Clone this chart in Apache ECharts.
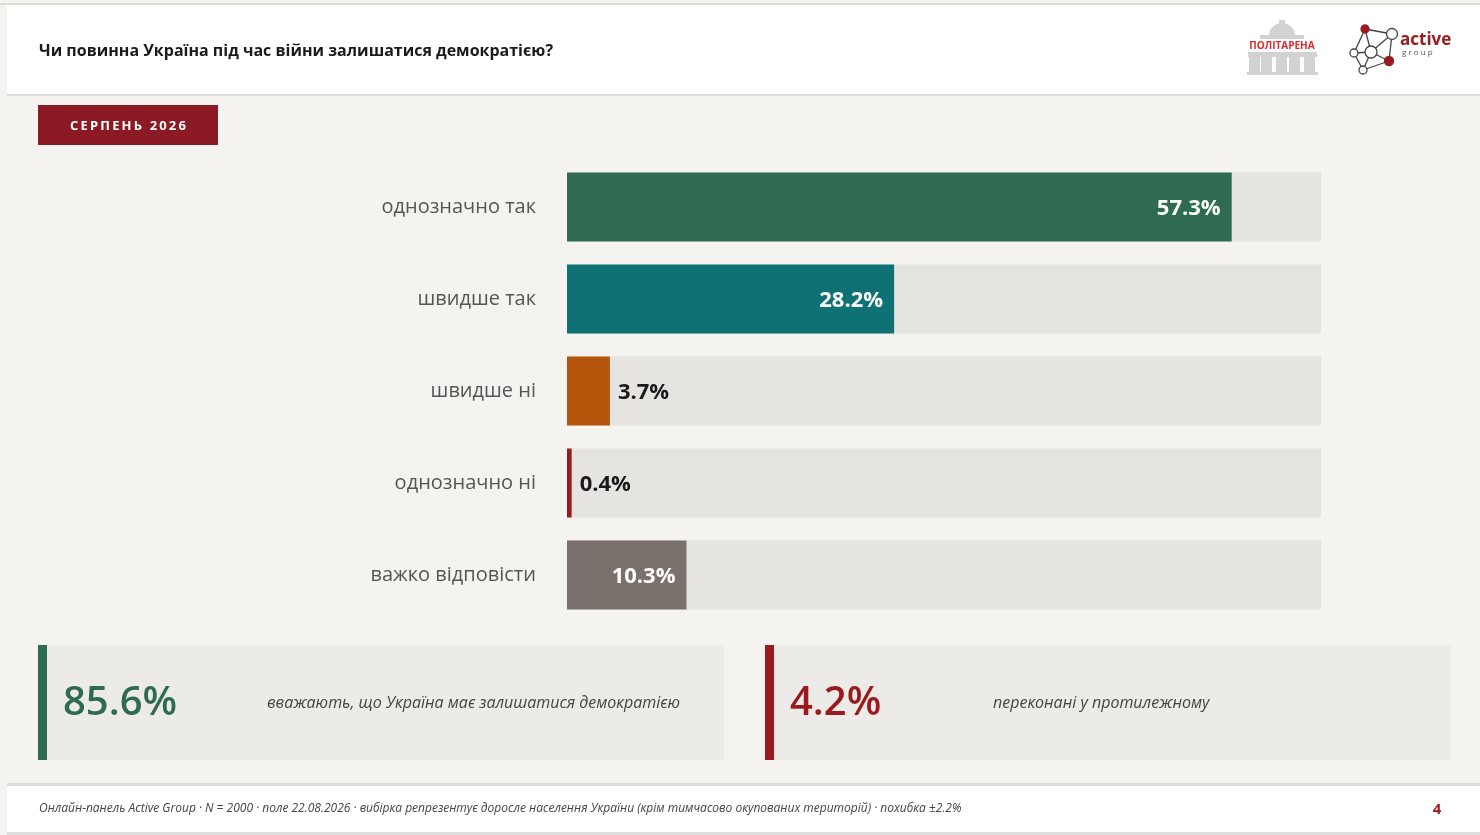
<!DOCTYPE html>
<html>
<head>
<meta charset="utf-8">
<script src="https://cdn.jsdelivr.net/npm/echarts@6/dist/echarts.min.js"></script>
<style>
  html, body { margin: 0; padding: 0; background: #f4f3ef; }
  #chart { width: 1480px; height: 835px; }
</style>
</head>
<body>
<div id="chart"></div>
<script>
const titleText = 'Чи повинна Україна під час війни залишатися демократією?'
const badgeText = 'СЕРПЕНЬ 2026'
const categories = ['однозначно так', 'швидше так', 'швидше ні', 'однозначно ні', 'важко відповісти']
const values = [57.3, 28.2, 3.7, 0.4, 10.3]
const axisMax = 65
const summaryValues = [85.6, 4.2]
const summaryTexts = ['вважають, що Україна має залишатися демократією', 'переконані у протилежному']
const footerText = 'Онлайн-панель Active Group · N = 2000 · поле 22.08.2026 · вибірка репрезентує доросле населення України (крім тимчасово окупованих територій) · похибка ±2.2%'
const pageNo = '4'

const barColors = ['#2e6b50', '#0e7275', '#b5540b', '#9b1a1e', '#7a716c']
const summaryColors = ['#2e6b50', '#9b1a1e']
const FONT = '"Open Sans", "Noto Sans", sans-serif'

function barData() {
    return values.map(function (v, i) {
        let inside = v >= 10
        return {
            value: v,
            itemStyle: { color: barColors[i] },
            label: {
                show: true,
                position: inside ? 'insideRight' : 'right',
                distance: inside ? 11 : 8,
                offset: [0, 2],
                color: inside ? '#ffffff' : '#1a1a1a'
            }
        }
    })
}

function summaryBox(x, i) {
    return [
        { type: 'rect', shape: { x: x, y: 645, width: 686, height: 115 }, style: { fill: '#edebe7' }, silent: true },
        { type: 'rect', shape: { x: x, y: 645, width: 9, height: 115 }, style: { fill: summaryColors[i] }, silent: true },
        {
            type: 'text', x: x + 25, y: 704,
            style: { text: summaryValues[i] + '%', fill: summaryColors[i], font: '600 40px ' + FONT, verticalAlign: 'middle' }
        },
        {
            type: 'text', x: x + (i === 0 ? 229 : 228), y: 703,
            style: { text: summaryTexts[i], fill: '#444444', font: 'italic 16px ' + FONT, verticalAlign: 'middle' }
        }
    ]
}

function logos() {
    let g = []
    // politarena building
    g.push({ type: 'sector', shape: { cx: 1282, cy: 36, r0: 0, r: 13, startAngle: Math.PI, endAngle: 2 * Math.PI }, style: { fill: '#d2d2d2' } })
    g.push({ type: 'rect', shape: { x: 1279, y: 20, width: 6, height: 4 }, style: { fill: '#d2d2d2' } })
    g.push({ type: 'rect', shape: { x: 1260, y: 35, width: 44, height: 4 }, style: { fill: '#d2d2d2' } })
    g.push({ type: 'text', x: 1282, y: 46, style: { text: 'ПОЛІТАРЕНА', fill: '#e0282d', font: 'bold 10px ' + FONT, align: 'center', verticalAlign: 'middle' } })
    g.push({ type: 'rect', shape: { x: 1248, y: 52, width: 69, height: 5 }, style: { fill: '#d2d2d2' } })
    let cols = [1249, 1261, 1276, 1289, 1304]
    cols.forEach(function (cx) {
        g.push({ type: 'rect', shape: { x: cx, y: 57, width: 11, height: 16 }, style: { fill: '#d2d2d2' } })
    })
    g.push({ type: 'rect', shape: { x: 1247, y: 72, width: 71, height: 3 }, style: { fill: '#d2d2d2' } })
    // active group network
    let nodes = [[1365, 29, 4, '#9b1a1e'], [1392, 34, 5.5, '#fff'], [1354, 53, 4, '#fff'], [1371, 52, 6, '#fff'], [1389, 61, 4.5, '#9b1a1e'], [1363, 70, 4, '#fff']]
    let links = [[0, 1], [0, 2], [0, 3], [1, 3], [1, 4], [2, 3], [2, 5], [3, 4], [3, 5], [4, 5]]
    links.forEach(function (l) {
        g.push({ type: 'line', shape: { x1: nodes[l[0]][0], y1: nodes[l[0]][1], x2: nodes[l[1]][0], y2: nodes[l[1]][1] }, style: { stroke: '#444', lineWidth: 1.3 } })
    })
    nodes.forEach(function (n) {
        g.push({ type: 'circle', shape: { cx: n[0], cy: n[1], r: n[2] }, style: { fill: n[3], stroke: n[3] === '#fff' ? '#444' : n[3], lineWidth: 1.3 } })
    })
    g.push({ type: 'text', x: 1400, y: 40, style: { text: 'active', fill: '#9b1a1e', font: 'bold 17px ' + FONT, verticalAlign: 'middle' } })
    g.push({ type: 'text', x: 1402, y: 53, style: { text: 'g r o u p', fill: '#555', font: '8px ' + FONT, verticalAlign: 'middle' } })
    return g
}

let chart = echarts.init(document.querySelector('#chart'))

let graphics = [
    { type: 'rect', shape: { x: 0, y: 3, width: 1480, height: 2 }, style: { fill: '#dddddd' }, silent: true },
    { type: 'rect', shape: { x: 7, y: 5, width: 1473, height: 89 }, style: { fill: '#ffffff' }, silent: true },
    { type: 'rect', shape: { x: 7, y: 94, width: 1473, height: 2 }, style: { fill: '#dcdcdc' }, silent: true },
    {
        type: 'text', x: 39, y: 51,
        style: { text: titleText, fill: '#1a1a1a', font: 'bold 16px ' + FONT, verticalAlign: 'middle' }
    },
    { type: 'rect', shape: { x: 38, y: 105, width: 180, height: 40 }, style: { fill: '#8b1a24' }, silent: true },
    {
        type: 'text', x: 128, y: 126,
        style: { text: badgeText.split('').join('\u2009'), fill: '#ffffff', font: 'bold 13px ' + FONT, align: 'center', verticalAlign: 'middle' }
    },
    { type: 'rect', shape: { x: 7, y: 783, width: 1473, height: 3 }, style: { fill: '#dcdcdc' }, silent: true },
    { type: 'rect', shape: { x: 7, y: 786, width: 1473, height: 46 }, style: { fill: '#ffffff' }, silent: true },
    { type: 'rect', shape: { x: 7, y: 832, width: 1473, height: 3 }, style: { fill: '#dddddd' }, silent: true },
    {
        type: 'text', x: 39, y: 809,
        style: { text: footerText, fill: '#444444', font: 'italic 12px ' + FONT, verticalAlign: 'middle' }
    },
    {
        type: 'text', x: 1437, y: 810,
        style: { text: pageNo, fill: '#9b1a1e', font: 'bold 15px ' + FONT, align: 'center', verticalAlign: 'middle' }
    }
].concat(summaryBox(38, 0), summaryBox(765, 1), logos())

let option = {
    backgroundColor: '#f4f3ef',
    animation: false,
    graphic: { elements: graphics },
    grid: { left: 567, width: 754, top: 161, height: 460, containLabel: false },
    xAxis: {
        type: 'value', min: 0, max: axisMax,
        show: false
    },
    yAxis: {
        type: 'category',
        data: categories,
        inverse: true,
        axisLine: { show: false },
        axisTick: { show: false },
        axisLabel: { margin: 31, color: '#555555', fontSize: 20, fontFamily: FONT, padding: [4, 0, 0, 0] }
    },
    series: [
        {
            type: 'bar',
            data: barData(),
            barWidth: 69,
            showBackground: true,
            backgroundStyle: { color: '#e5e4e1' },
            label: {
                formatter: '{c}%',
                fontSize: 22,
                fontWeight: 'bold',
                fontFamily: FONT
            }
        }
    ]
}
chart.setOption(option)
</script>
</body>
</html>
